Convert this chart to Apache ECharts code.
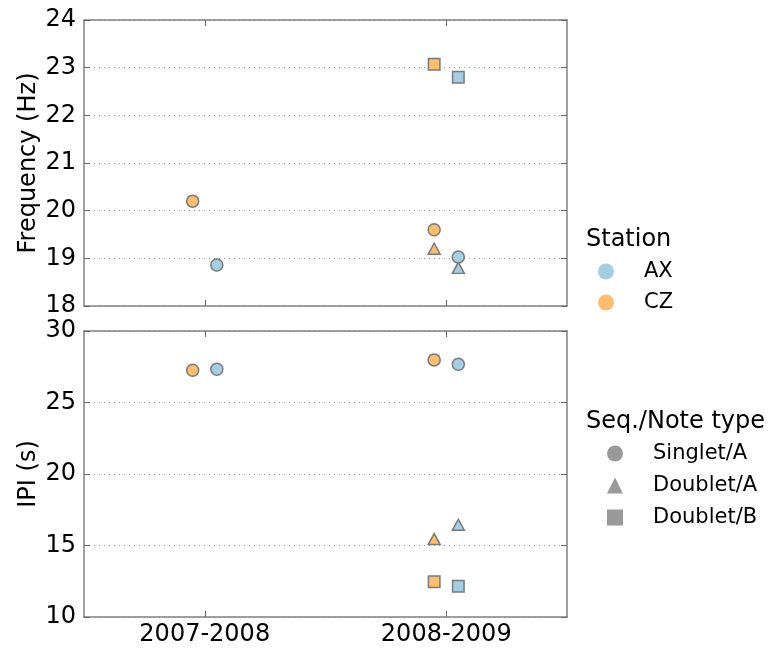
<!DOCTYPE html>
<html>
<head>
<meta charset="utf-8">
<script src="https://cdn.jsdelivr.net/npm/echarts@6/dist/echarts.min.js"></script>
<style>
  html, body { margin: 0; padding: 0; background: #fff; }
  #chart { width: 770px; height: 652px; }
</style>
</head>
<body>
<div id="chart"></div>
<script>
// Seasons on the x axis and the two recording stations
const seasons = ['2007-2008', '2008-2009'];
const stations = ['AX', 'CZ'];
const noteTypes = ['Singlet/A', 'Doublet/A', 'Doublet/B'];

// Mean frequency (Hz) per season; null = type not recorded that season
const freqAXSinglet = [18.86, 19.03];
const freqAXDoubletA = [null, 18.80];
const freqAXDoubletB = [null, 22.80];
const freqCZSinglet = [20.20, 19.60];
const freqCZDoubletA = [null, 19.20];
const freqCZDoubletB = [null, 23.07];

// Mean inter-pulse interval (s) per season
const ipiAXSinglet = [27.33, 27.68];
const ipiAXDoubletA = [null, 16.45];
const ipiAXDoubletB = [null, 12.15];
const ipiCZSinglet = [27.25, 27.98];
const ipiCZDoubletA = [null, 15.45];
const ipiCZDoubletB = [null, 12.47];

// Axis tick values
const freqTicks = { min: 18, max: 24, step: 1 };
const ipiTicks = { min: 10, max: 30, step: 5 };

const stationColor = { AX: '#a6cee3', CZ: '#fdbf6f' };
const stationDodge = { AX: 0.05, CZ: -0.05 };
const typeSymbol = { 'Singlet/A': 'circle', 'Doublet/A': 'triangle', 'Doublet/B': 'rect' };
const typeSize = { 'Singlet/A': 12, 'Doublet/A': [12, 11], 'Doublet/B': 11.5 };

const FONT = 'DejaVu Sans';
const SPINE = '#808080';

const panels = [
  { axis: 0, values: {
      AX: { 'Singlet/A': freqAXSinglet, 'Doublet/A': freqAXDoubletA, 'Doublet/B': freqAXDoubletB },
      CZ: { 'Singlet/A': freqCZSinglet, 'Doublet/A': freqCZDoubletA, 'Doublet/B': freqCZDoubletB } } },
  { axis: 2, values: {
      AX: { 'Singlet/A': ipiAXSinglet, 'Doublet/A': ipiAXDoubletA, 'Doublet/B': ipiAXDoubletB },
      CZ: { 'Singlet/A': ipiCZSinglet, 'Doublet/A': ipiCZDoubletA, 'Doublet/B': ipiCZDoubletB } } }
];

function toPoints(arr, dodge) {
  const pts = [];
  arr.forEach((v, i) => { if (v != null) pts.push([i + dodge, v]); });
  return pts;
}

const series = [];
// square and triangle markers first so circles sit on top
const drawOrder = ['Doublet/B', 'Doublet/A', 'Singlet/A'];
panels.forEach(p => {
  stations.forEach(st => {
    drawOrder.forEach(t => {
      series.push({
        type: 'scatter',
        name: st,
        xAxisIndex: p.axis,
        yAxisIndex: p.axis,
        symbol: typeSymbol[t],
        symbolSize: typeSize[t],
        itemStyle: { color: stationColor[st], borderColor: '#7a7a7a', borderWidth: 1.5, opacity: 1 },
        emphasis: { disabled: true },
        data: toPoints(p.values[st][t], stationDodge[st])
      });
    });
  });
});
// empty series that only feed the marker-shape legend
noteTypes.forEach(t => {
  series.push({
    type: 'scatter', name: t, xAxisIndex: 0, yAxisIndex: 0,
    symbol: typeSymbol[t], itemStyle: { color: '#808080' }, data: []
  });
});

function xAxis(gridIndex, position, labels) {
  return {
    type: 'value', gridIndex, position, min: -0.5, max: 1.5,
    axisLine: { show: true, onZero: false, lineStyle: { color: SPINE, width: 1.5 } },
    axisTick: { show: true, inside: true, length: 6, customValues: [0, 1], lineStyle: { color: '#666', width: 1 } },
    axisLabel: labels ? {
      show: true, customValues: [0, 1], margin: 6,
      formatter: v => seasons[Math.round(v)] || '',
      fontFamily: FONT, fontSize: 24, color: '#000'
    } : { show: false },
    splitLine: { show: false }
  };
}

function yAxis(gridIndex, position, ticks, name) {
  const left = position === 'left';
  return {
    type: 'value', gridIndex, position,
    min: ticks.min, max: ticks.max, interval: ticks.step,
    name: left ? name : '',
    nameLocation: 'middle', nameGap: 43, nameMoveOverlap: false,
    nameTextStyle: { fontFamily: FONT, fontSize: 24, color: '#000' },
    axisLine: { show: true, onZero: false, lineStyle: { color: SPINE, width: 1.5 } },
    axisTick: { show: true, inside: true, length: 6, lineStyle: { color: '#666', width: 1 } },
    axisLabel: left ? { show: true, margin: 8, fontFamily: FONT, fontSize: 24, color: '#000' } : { show: false },
    splitLine: left ? { show: true, lineStyle: { color: '#999999', width: 1, type: [1, 4] } } : { show: false }
  };
}

const option = {
  animation: false,
  backgroundColor: '#fff',
  grid: [
    { left: 84, top: 20, width: 483, height: 286 },
    { left: 84, top: 331, width: 483, height: 286 }
  ],
  xAxis: [
    xAxis(0, 'bottom', false), xAxis(0, 'top', false),
    xAxis(1, 'bottom', true), xAxis(1, 'top', false)
  ],
  yAxis: [
    yAxis(0, 'left', freqTicks, 'Frequency (Hz)'), yAxis(0, 'right', freqTicks),
    yAxis(1, 'left', ipiTicks, 'IPI (s)'), yAxis(1, 'right', ipiTicks)
  ],
  legend: [
    {
      data: stations, orient: 'vertical', left: 598, top: 261, padding: 0,
      itemWidth: 16, itemHeight: 16, itemGap: 10, icon: 'circle',
      selectedMode: false, itemStyle: { borderWidth: 0 },
      textStyle: { fontFamily: FONT, fontSize: 21, color: '#000', padding: [0, 0, 0, 25] }
    },
    {
      data: noteTypes, orient: 'vertical', left: 607, top: 443, padding: 0,
      itemWidth: 16, itemHeight: 16, itemGap: 11,
      selectedMode: false, itemStyle: { borderWidth: 0 },
      textStyle: { fontFamily: FONT, fontSize: 21, color: '#000', padding: [0, 0, 0, 25] }
    }
  ],
  graphic: [
    { type: 'text', left: 586, top: 228, style: { text: 'Station', fontFamily: FONT, fontSize: 24, fill: '#000' } },
    { type: 'text', left: 586, top: 410, style: { text: 'Seq./Note type', fontFamily: FONT, fontSize: 24, fill: '#000' } }
  ],
  series
};

const chart = echarts.init(document.getElementById('chart'), null, { renderer: 'canvas' });
chart.setOption(option);
</script>
</body>
</html>
